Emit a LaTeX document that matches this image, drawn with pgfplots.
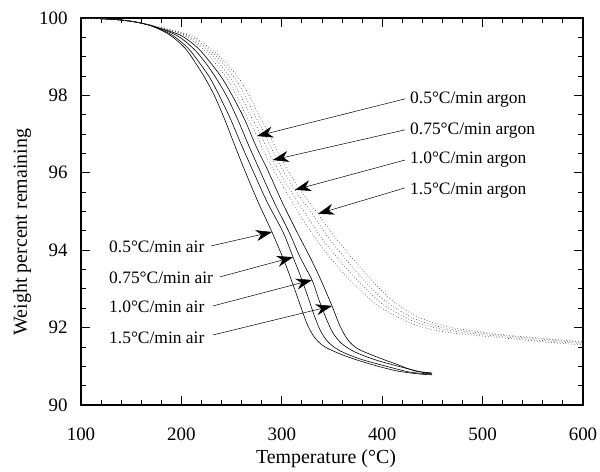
\documentclass[border=0pt]{standalone}
\usepackage{fontspec}
\setmainfont{Liberation Serif}
\usepackage{pgfplots}
\pgfplotsset{compat=1.18}
\usetikzlibrary{arrows.meta}

\tikzset{
  airline/.style={black, line width=0.6pt, smooth},
  argline/.style={black!75, line width=0.6pt, dash pattern=on 0.7pt off 2.2pt, smooth},
  note/.style={anchor=base west, inner sep=0pt, font=\fontsize{17.5}{17.5}\selectfont},
  pointer/.style={-{Stealth[length=16bp,width=11bp,inset=5bp]}, line width=0.5pt},
}

% TGA curves: weight percent remaining vs temperature
% air runs (solid)
\pgfplotstableread{
T w
100 100
128.9 99.97
148.8 99.92
168.7 99.81
188.6 99.56
203.6 99.22
213.5 98.86
223.5 98.45
233.5 97.96
243.4 97.36
253.4 96.69
263.3 96.05
276.3 95.25
290.2 94.47
303.2 93.67
313.1 92.97
320.1 92.45
326.1 92.04
333.1 91.73
343.0 91.50
363.0 91.27
387.9 91.06
414.7 90.88
437.7 90.80
449.6 90.78
}\airA
\pgfplotstableread{
T w
100 100
128.9 99.97
148.8 99.92
168.7 99.81
190.6 99.56
206.6 99.22
217.5 98.86
228.5 98.45
238.4 97.96
249.4 97.36
260.3 96.69
271.3 96.05
285.3 95.25
301.2 94.47
311.2 93.82
318.2 93.36
326.1 92.79
332.1 92.33
338.1 91.94
346.0 91.63
358.0 91.40
377.9 91.19
402.8 91.01
427.7 90.85
449.6 90.80
}\airB
\pgfplotstableread{
T w
100 100
128.9 99.97
148.8 99.92
168.7 99.81
194.6 99.56
211.6 99.22
223.5 98.86
234.5 98.45
245.5 97.96
256.4 97.36
267.3 96.69
278.3 96.05
292.2 95.25
307.2 94.47
318.2 93.82
330.1 93.23
337.1 92.71
344.0 92.25
351.0 91.86
360.0 91.58
372.9 91.37
392.8 91.17
417.7 90.99
437.7 90.86
449.6 90.80
}\airC
\pgfplotstableread{
T w
100 100
128.9 99.97
148.8 99.92
168.7 99.81
198.6 99.56
216.5 99.22
228.5 98.86
240.4 98.45
251.4 97.96
263.3 97.36
274.3 96.69
286.3 96.05
300.2 95.25
315.1 94.47
328.1 93.82
338.1 93.28
350.0 92.56
358.0 92.04
365.9 91.68
375.9 91.45
394.8 91.24
414.7 91.05
432.7 90.88
449.6 90.83
}\airD
% argon runs (dotted)
\pgfplotstableread{
T w
100 100
128.9 99.97
148.8 99.92
168.7 99.82
201.6 99.56
220.5 99.22
233.5 98.84
246.4 98.40
255.4 97.96
264.3 97.49
272.3 97.11
275.3 96.95
286.3 96.33
303.2 95.56
318.1 94.91
333.1 94.32
350.0 93.75
365.9 93.28
380.9 92.90
397.8 92.53
430.7 92.09
464.5 91.88
517.3 91.74
557.2 91.64
600 91.55
}\argA
\pgfplotstableread{
T w
100 100
128.9 99.97
148.8 99.92
168.7 99.82
203.9 99.56
223.2 99.22
237.2 98.84
250.4 98.40
259.7 97.96
268.6 97.49
276.6 97.11
290.9 96.33
308.2 95.56
324.1 94.92
339.3 94.33
356.7 93.76
371.9 93.32
386.6 92.94
401.1 92.59
431.7 92.16
465.5 91.93
518.0 91.77
558.2 91.67
600 91.58
}\argB
\pgfplotstableread{
T w
100 100
128.9 99.97
148.8 99.92
168.7 99.82
206.3 99.56
225.8 99.22
240.7 98.84
254.4 98.40
264.0 97.96
273.0 97.49
281.0 97.11
295.5 96.33
313.1 95.56
330.1 94.95
345.7 94.35
363.3 93.78
377.5 93.35
392.1 92.95
404.5 92.66
432.7 92.22
466.5 91.97
518.6 91.80
559.6 91.70
600 91.60
}\argC
\pgfplotstableread{
T w
100 100
128.9 99.97
148.8 99.92
168.7 99.82
208.6 99.56
228.5 99.22
244.4 98.84
258.4 98.40
268.3 97.96
277.3 97.49
285.3 97.11
300.2 96.33
318.1 95.56
336.1 94.94
352.0 94.37
370.0 93.80
383.9 93.39
397.8 93.00
410.0 92.70
433.7 92.30
467.5 92.01
518.9 91.82
560.6 91.72
600 91.63
}\argD

\begin{document}
\begin{tikzpicture}
\begin{axis}[
  scale only axis, width=502bp, height=387bp,
  xmin=100, xmax=600, ymin=90, ymax=100,
  xtick={100,200,...,600}, ytick={90,92,...,100},
  minor x tick num=4, minor y tick num=3,
  major tick length=9bp, minor tick length=5bp,
  axis line style={line width=1.2pt},
  every tick/.style={black, line width=0.9pt},
  tick label style={font=\fontsize{19}{19}\selectfont},
  /pgf/number format/assume math mode=true,
  xticklabel style={yshift=-19bp},
  yticklabel style={xshift=-10bp},
  xlabel={Temperature (°C)},
  ylabel={Weight percent remaining},
  label style={font=\fontsize{20}{20}\selectfont},
  xlabel style={at={(axis description cs:0.488,-0.1395)}, anchor=center},
  ylabel style={at={(axis description cs:-0.1175,0.447)}, anchor=center},
  clip=false,
]
\addplot[airline] table[x=T,y=w] {\airA};
\addplot[airline] table[x=T,y=w] {\airB};
\addplot[airline] table[x=T,y=w] {\airC};
\addplot[airline] table[x=T,y=w] {\airD};
\addplot[argline] table[x=T,y=w] {\argA};
\addplot[argline] table[x=T,y=w] {\argB};
\addplot[argline] table[x=T,y=w] {\argC};
\addplot[argline] table[x=T,y=w] {\argD};

% argon annotations
\node[note] at (axis cs:427.7,97.80) {0.5°C/min argon};
\node[note] at (axis cs:427.7,96.98) {0.75°C/min argon};
\node[note] at (axis cs:427.7,96.23) {1.0°C/min argon};
\node[note] at (axis cs:427.7,95.45) {1.5°C/min argon};
\draw[pointer] (axis cs:422.7,97.91) -- (axis cs:275.3,96.95);
\draw[pointer] (axis cs:422.7,97.11) -- (axis cs:290.9,96.33);
\draw[pointer] (axis cs:422.7,96.33) -- (axis cs:313.1,95.56);
\draw[pointer] (axis cs:422.7,95.61) -- (axis cs:336.1,94.94);

% air annotations
\node[note] at (axis cs:127.9,93.93) {0.5°C/min air};
\node[note] at (axis cs:127.9,93.13) {0.75°C/min air};
\node[note] at (axis cs:127.9,92.38) {1.0°C/min air};
\node[note] at (axis cs:127.9,91.60) {1.5°C/min air};
\draw[pointer] (axis cs:229.5,94.11) -- (axis cs:290.2,94.47);
\draw[pointer] (axis cs:238.4,93.31) -- (axis cs:311.2,93.82);
\draw[pointer] (axis cs:231.5,92.56) -- (axis cs:330.1,93.23);
\draw[pointer] (axis cs:231.5,91.81) -- (axis cs:350.0,92.56);
\end{axis}
\pgfresetboundingbox
\path (-81bp,-67bp) rectangle (519bp,405bp);
\end{tikzpicture}
\end{document}
